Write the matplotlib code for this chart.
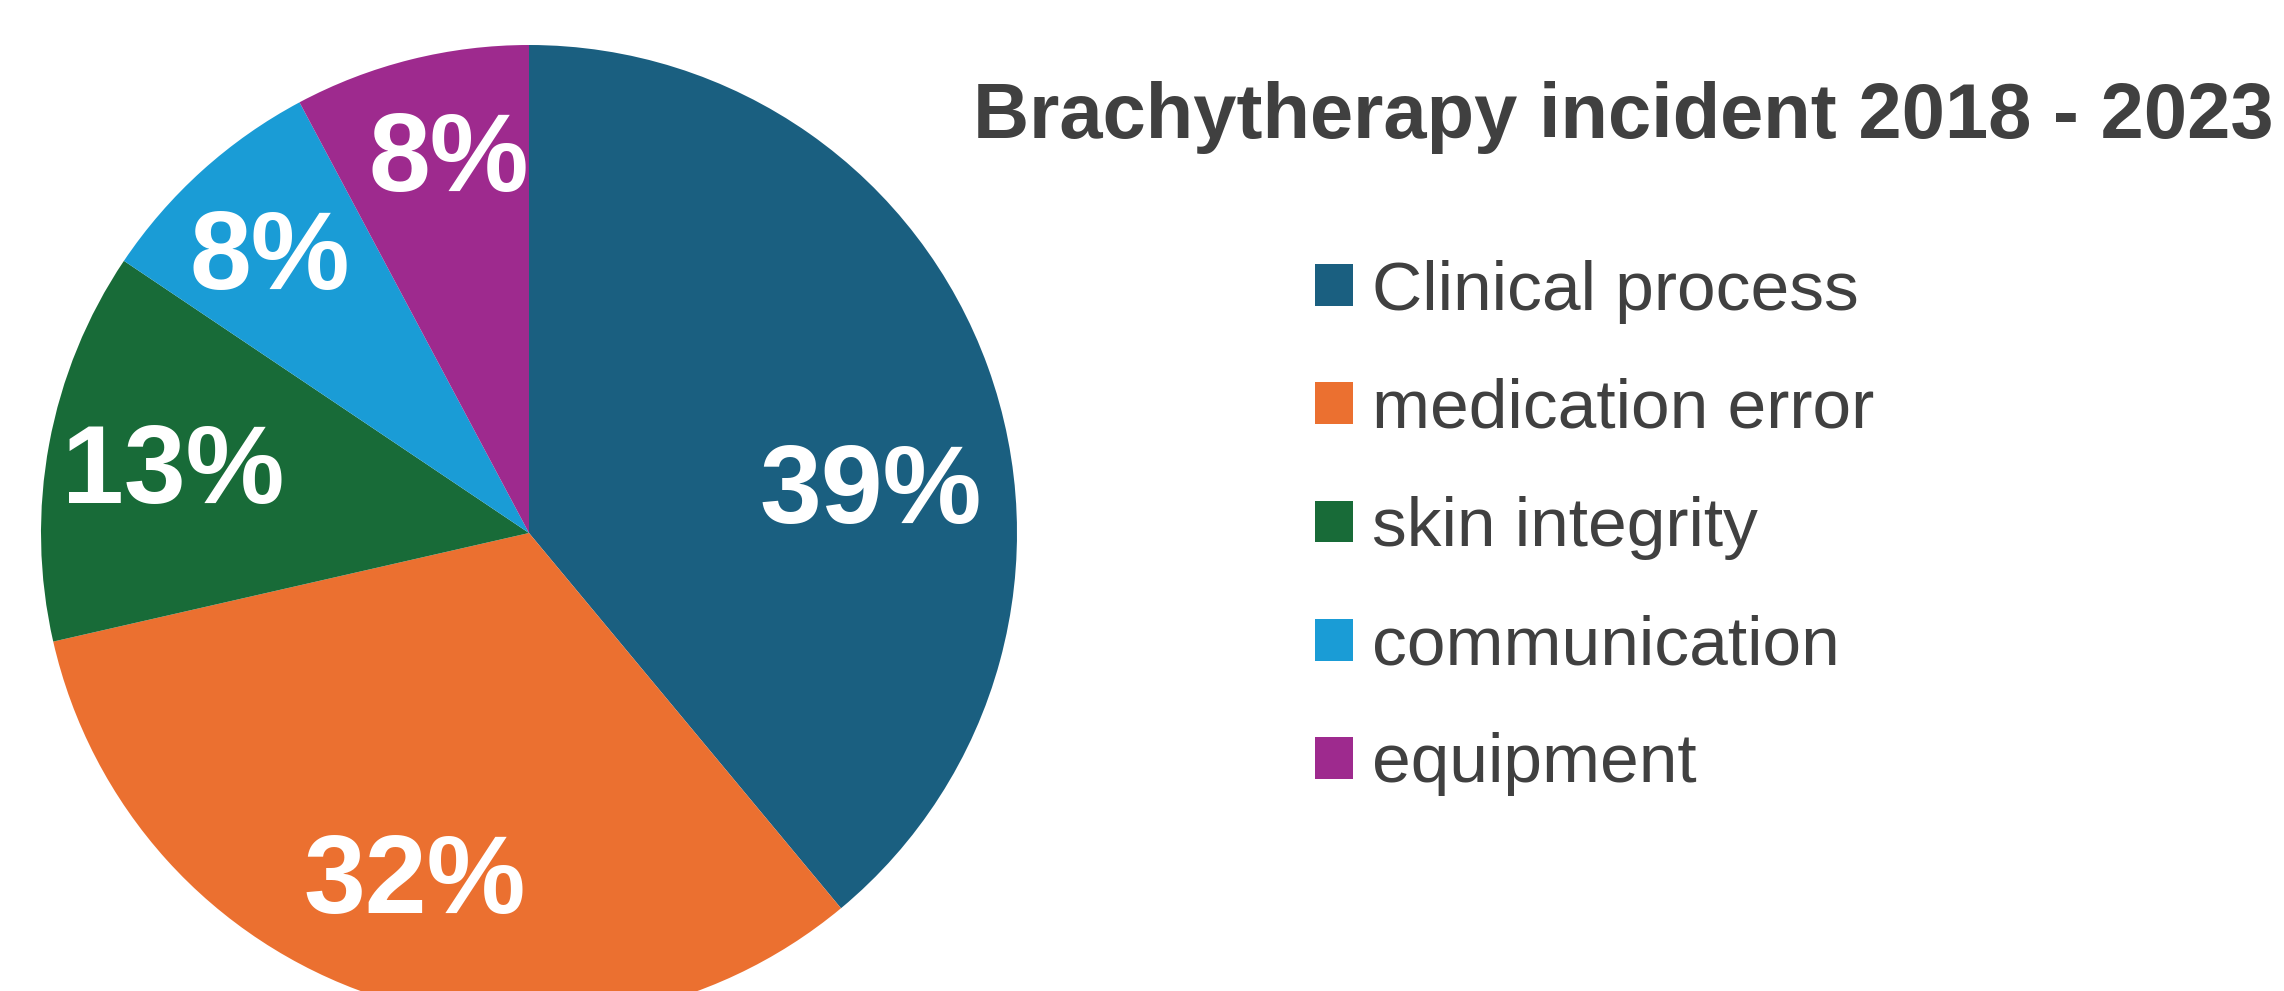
import matplotlib
matplotlib.use("Agg")
import matplotlib.pyplot as plt

# incident counts
categories = ['Clinical process', 'medication error', 'skin integrity',
              'communication', 'equipment']
counts = [30, 25, 10, 6, 6]
pct_labels = ['39%', '32%', '13%', '8%', '8%']
colors = ['#1A5F80', '#EB7030', '#186B38', '#1A9CD6', '#9E2A8E']
title = 'Brachytherapy incident 2018 - 2023'

# label positions in pie-radius units (Excel "best fit" spots)
label_pos = [(0.70, 0.08), (-0.234, -0.72), (-0.73, 0.12),
             (-0.532, 0.56), (-0.164, 0.76)]

plt.rcParams['font.family'] = ['Liberation Sans', 'DejaVu Sans']
W, H = 2284, 991
fig = plt.figure(figsize=(W / 100, H / 100), dpi=100)

cx, cy, r = 529, 533, 488
ax = fig.add_axes([(cx - r) / W, (H - cy - r) / H, 2 * r / W, 2 * r / H])
wedges, _ = ax.pie(counts, colors=colors, startangle=90, counterclock=False,
                   radius=1, wedgeprops=dict(linewidth=0))
ax.set_xlim(-1, 1)
ax.set_ylim(-1, 1)
ax.axis('off')

for txt, (x, y) in zip(pct_labels, label_pos):
  ax.text(x, y, txt, color='white', fontsize=80, fontweight='bold',
          ha='center', va='center')

fig.text(1623 / W, 1 - 118 / H, title, fontsize=56, fontweight='bold',
         color='#404040', ha='center', va='center')

leg = fig.legend(wedges, categories, loc='upper left',
                 bbox_to_anchor=(1280 / W, 1 - 225 / H), frameon=False,
                 fontsize=50, handlelength=0.55, handleheight=0.55,
                 handletextpad=0.28, labelspacing=0.78, labelcolor='#404040',
                 borderpad=0)

fig.savefig('out.png', dpi=100)
plt.close()
